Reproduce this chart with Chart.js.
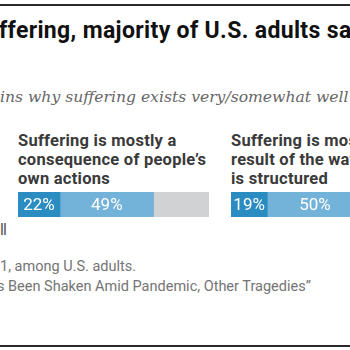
<!DOCTYPE html>
<html lang="en">
<head>
<meta charset="UTF-8"/>
<title>Suffering explanations</title>
<script src="https://cdn.jsdelivr.net/npm/chart.js"></script>
<style>
  html, body { margin: 0; padding: 0; }
  body {
    width: 350px; height: 350px; overflow: hidden; position: relative;
    background: #fff; font-family: Roboto, "Liberation Sans", sans-serif;
  }
  .rule { position: absolute; left: 0; width: 350px; height: 2px; background: #2a2a2a; }
  .title {
    position: absolute; left: -1px; top: 17px; white-space: nowrap;
    font-weight: bold; font-size: 23px; color: #111; letter-spacing: 0.35px;
  }
  .subtitle {
    position: absolute; left: 0; top: 88px; white-space: nowrap;
    font-family: "DejaVu Serif", serif; font-style: italic; font-size: 15.6px; color: #666;
  }
  .panel-title {
    position: absolute; top: 131px; width: 240px;
    font-weight: bold; font-size: 16.5px; line-height: 19px; color: #3a3a3a;
    letter-spacing: 0.25px;
  }
  .bar { position: absolute; top: 192px; width: 191px; height: 25px; }
  .note { position: absolute; white-space: nowrap; color: #747474; font-size: 14.5px; }
</style>
</head>
<body>
  <div class="rule" style="top:4px"></div>
  <div class="title" id="title"></div>
  <div class="subtitle" id="subtitle"></div>

  <div class="panel-title" id="p0" style="left:18px"></div>
  <div class="panel-title" id="p1" style="left:231px"></div>
  <div class="bar" style="left:18px"><canvas id="c0"></canvas></div>
  <div class="bar" style="left:231px"><canvas id="c1"></canvas></div>

  <div class="note" style="left:0; top:220px; color:#555; font-size:16px; letter-spacing:-1px">ll</div>
  <div class="note" id="src1" style="left:0; top:258px"></div>
  <div class="note" id="src2" style="left:-3px; top:278px"></div>
  <div class="rule" style="top:345px"></div>

<script>
  const titleText    = "ffering, majority of U.S. adults sa";
  const subtitleText = "ins why suffering exists very/somewhat well";
  const panelLines = [
    ["Suffering is mostly a", "consequence of people\u2019s", "own actions"],
    ["Suffering is mostly the", "result of the way the world", "is structured"]
  ];
  const veryWell     = [22, 19];
  const somewhatWell = [49, 50];
  const notWell      = [29, 31];
  const sourceLine1  = "1, among U.S. adults.";
  const sourceLine2  = "s Been Shaken Amid Pandemic, Other Tragedies\u201d";

  document.getElementById("title").textContent = titleText;
  document.getElementById("subtitle").textContent = subtitleText;
  document.getElementById("src1").textContent = sourceLine1;
  document.getElementById("src2").textContent = sourceLine2;
  panelLines.forEach((lines, i) => {
    document.getElementById("p" + i).innerHTML = lines.join("<br>");
  });

  // percent text inside the two blue segments
  const segLabels = {
    id: "segLabels",
    afterDatasetsDraw(chart) {
      const ctx = chart.ctx;
      ctx.save();
      ctx.fillStyle = "#fff";
      ctx.font = "17px Roboto, sans-serif";
      ctx.textAlign = "center";
      ctx.textBaseline = "middle";
      [0, 1].forEach(di => {
        const el = chart.getDatasetMeta(di).data[0];
        const v = chart.data.datasets[di].data[0];
        ctx.fillText(v + "%", (el.x + el.base) / 2, el.y + 1);
      });
      ctx.restore();
    }
  };

  panelLines.forEach((_, i) => {
    new Chart(document.getElementById("c" + i), {
      type: "bar",
      data: {
        labels: [""],
        datasets: [
          { data: [veryWell[i]], backgroundColor: "#2a8cc0" },
          { data: [somewhatWell[i]], backgroundColor: "#74b3d9" },
          { data: [notWell[i]], backgroundColor: "#d1d2d4" }
        ]
      },
      options: {
        indexAxis: "y",
        responsive: true,
        maintainAspectRatio: false,
        animation: false,
        events: [],
        layout: { padding: 0 },
        datasets: { bar: { barPercentage: 1, categoryPercentage: 1, borderWidth: 0 } },
        plugins: { legend: { display: false }, tooltip: { enabled: false } },
        scales: {
          x: { stacked: true, min: 0, max: 100, display: false },
          y: { stacked: true, display: false }
        }
      },
      plugins: [segLabels]
    });
  });
</script>
</body>
</html>
